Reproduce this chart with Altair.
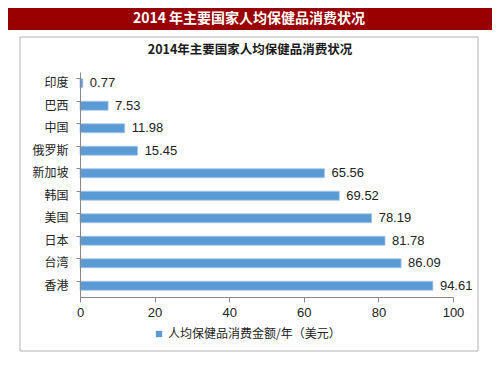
import altair as alt
import pandas as pd

countries = ["印度", "巴西", "中国", "俄罗斯", "新加坡", "韩国", "美国", "日本", "台湾", "香港"]
values = [0.77, 7.53, 11.98, 15.45, 65.56, 69.52, 78.19, 81.78, 86.09, 94.61]
series = "人均保健品消费金额/年（美元）"
header_title = "2014 年主要国家人均保健品消费状况"
inner_title = "2014年主要国家人均保健品消费状况"
x_ticks = [0, 20, 40, 60, 80, 100]

df = pd.DataFrame({"country": countries, "value": values, "series": [series] * len(countries)})
one = alt.Data(values=[{}])

font = "Liberation Sans"
cjk = "Noto Sans CJK SC"

band = alt.Chart(one).mark_rect(color="#990000").encode(
    x=alt.value(-72), x2=alt.value(412), y=alt.value(-64), y2=alt.value(-42)
)
box = alt.Chart(one).mark_rect(fill="white", stroke="#b3b3b3", strokeWidth=1).encode(
    x=alt.value(-60), x2=alt.value(398), y=alt.value(-35), y2=alt.value(279)
)
head = alt.Chart(one).mark_text(
    text=header_title, color="white", font=cjk, fontSize=14, fontWeight="bold",
    align="center", baseline="middle"
).encode(x=alt.value(169), y=alt.value(-53))
ititle = alt.Chart(one).mark_text(
    text=inner_title, color="#1a1a1a", font=cjk, fontSize=12.5, fontWeight="bold",
    align="center", baseline="middle"
).encode(x=alt.value(170), y=alt.value(-22))

y_enc = alt.Y(
    "country:N", sort=countries, title=None,
    scale=alt.Scale(paddingInner=0.6, paddingOuter=0.3),
    axis=alt.Axis(bandPosition=0, tickSize=4, tickColor="#888888", domainColor="#888888",
                  labelFont=cjk, labelFontSize=12, labelColor="#222222", labelPadding=8,
                  zindex=1)
)
x_enc = alt.X(
    "value:Q", title=None,
    scale=alt.Scale(domain=[0, 100], nice=False),
    axis=alt.Axis(values=x_ticks, grid=False, tickSize=5, tickColor="#888888",
                  domainColor="#888888", labelFont=font, labelFontSize=13,
                  labelColor="#222222", labelPadding=4, labelFlush=False, zindex=1)
)

bars = alt.Chart(df).mark_bar(stroke="#a9c8ea", strokeWidth=0.8).encode(
    x=x_enc, y=y_enc,
    color=alt.Color("series:N", title=None,
                    scale=alt.Scale(range=["#5b9bd5"]),
                    legend=alt.Legend(orient="none", legendX=73, legendY=256,
                                      symbolType="square", symbolSize=40,
                                      symbolStrokeWidth=0, labelFont=cjk,
                                      labelFontSize=12, labelColor="#222222",
                                      labelOffset=3, padding=0, labelLimit=400))
)
labels = alt.Chart(df).mark_text(
    align="left", baseline="middle", dx=7, font=font, fontSize=13, color="#222222"
).encode(
    x="value:Q", y=alt.Y("country:N", sort=countries),
    text=alt.Text("value:Q", format=".2f")
)

chart = alt.layer(band, box, head, ititle, bars, labels).properties(
    width=373, height=225,
    autosize=alt.AutoSizeParams(type="none"),
    padding={"left": 72, "top": 64, "right": 39, "bottom": 70},
    background="white"
).configure_view(stroke=None)

chart.save("out.html", embed_options={"renderer": "svg", "actions": False})
